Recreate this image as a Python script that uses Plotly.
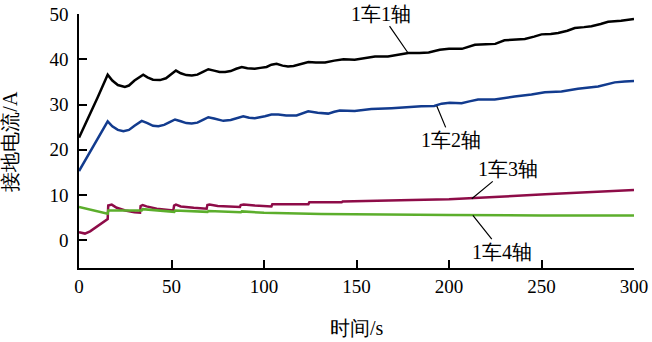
import plotly.graph_objects as go

# Ground current of each axle of car 1 over time
t_axle1 = [0, 5, 10, 15.5, 18, 21, 24.8, 27, 30, 34.7, 37, 40, 43.8, 47, 50, 52.4, 55, 58, 61, 64, 67,
           69.9, 73, 76, 79, 82, 85, 88, 91, 95, 98, 101.4, 104, 106.8, 110, 113, 116, 118.5, 121, 124,
           128, 133, 138, 143, 149, 154, 160, 167, 172.5, 178, 184, 189, 195, 200, 207, 214, 220, 225,
           230, 236, 241, 246, 250, 255, 259, 264, 268, 273, 277, 282, 286, 293, 300]
i_axle1 = [22.7, 27.0, 31.5, 36.6, 35.3, 34.3, 33.9, 34.2, 35.3, 36.6, 36.0, 35.5, 35.4, 35.8, 36.8, 37.5,
           36.9, 36.5, 36.4, 36.6, 37.2, 37.8, 37.5, 37.2, 37.2, 37.4, 37.9, 38.3, 38.0, 37.9, 38.1, 38.3,
           38.8, 39.0, 38.6, 38.4, 38.5, 38.8, 39.2, 39.4, 39.3, 39.3, 39.7, 40.0, 39.9, 40.2, 40.6, 40.6,
           41.0, 41.4, 41.4, 41.5, 42.1, 42.3, 42.3, 43.2, 43.3, 43.4, 44.2, 44.3, 44.5, 45.0, 45.5, 45.6,
           45.8, 46.3, 46.9, 47.1, 47.3, 47.8, 48.3, 48.5, 48.9]

t_axle2 = [0, 5, 10, 15.5, 18, 21, 24, 27, 30, 33.9, 37, 40, 42.9, 46, 49, 51.9, 55, 58, 60.9, 64, 67,
           69.9, 73, 76, 78, 82, 85, 88.8, 92, 95, 100.5, 104, 107.7, 112, 117.6, 121, 123.9, 129, 134.7,
           138, 141, 149, 158, 169, 178, 185, 192, 196, 200.4, 206.8, 211, 215.7, 224.7, 230, 235.5,
           244.6, 251.8, 260.8, 269.7, 280.6, 285, 289.6, 295, 300]
i_axle2 = [15.3, 18.9, 22.4, 26.3, 25.2, 24.4, 24.1, 24.4, 25.3, 26.4, 25.9, 25.3, 25.2, 25.5, 26.1, 26.7,
           26.3, 25.9, 25.8, 26.0, 26.6, 27.2, 26.9, 26.5, 26.4, 26.6, 27.0, 27.4, 27.1, 27.0, 27.4, 27.8,
           27.8, 27.6, 27.6, 28.1, 28.5, 28.2, 28.0, 28.4, 28.7, 28.6, 29.0, 29.2, 29.5, 29.6, 29.7, 30.2,
           30.4, 30.3, 30.7, 31.1, 31.1, 31.5, 31.8, 32.2, 32.7, 32.9, 33.5, 34.0, 34.4, 34.9, 35.1, 35.2]

t_axle3 = [0, 3.2, 6, 10, 15.5, 15.8, 17.7, 20.4, 25, 30, 33, 33.3, 34.4, 36.5, 42, 51, 51.4, 52.4, 55,
           62, 69, 69.4, 70.5, 75, 87, 87.4, 89, 95, 104, 104.5, 124, 124.5, 142, 142.5, 160, 180, 200,
           212, 230, 252, 275, 300]
i_axle3 = [1.8, 1.5, 2.0, 3.2, 4.7, 7.7, 7.9, 7.2, 6.6, 6.2, 6.1, 7.6, 7.8, 7.5, 7.0, 6.6, 7.7, 7.9, 7.5,
           7.2, 7.0, 7.8, 7.9, 7.6, 7.4, 7.8, 7.9, 7.7, 7.5, 8.0, 8.0, 8.4, 8.4, 8.6, 8.7, 8.9, 9.1,
           9.3, 9.7, 10.2, 10.6, 11.1]

t_axle4 = [0, 15.5, 15.8, 33.9, 34.4, 51.5, 52, 69.5, 70, 87.5, 88, 100, 131, 155, 178, 200, 250, 300]
i_axle4 = [7.4, 5.9, 6.6, 6.6, 6.9, 6.3, 6.6, 6.3, 6.5, 6.2, 6.4, 6.1, 5.8, 5.7, 5.7, 5.6, 5.5, 5.5]

series_names = ["1车1轴", "1车2轴", "1车3轴", "1车4轴"]
series_colors = ["#000000", "#123b8e", "#8e0c48", "#5cae2c"]

# label text position and the point on the curve its leader line touches
label_x = [163.2, 201.0, 231.8, 228.5]
label_y = [50.1, 22.2, 15.8, -2.5]
leader_x = [177.7, 193.4, 212.3, 212.9]
leader_y = [41.5, 29.7, 9.2, 5.5]

x_ticks = [0, 50, 100, 150, 200, 250, 300]
y_ticks = [0, 10, 20, 30, 40, 50]

FONT = "'Times New Roman', 'Liberation Serif', 'DejaVu Serif', serif"

fig = go.Figure()
for t, i, name, color in zip([t_axle1, t_axle2, t_axle3, t_axle4],
                             [i_axle1, i_axle2, i_axle3, i_axle4],
                             series_names, series_colors):
    fig.add_trace(go.Scatter(x=t, y=i, mode="lines", name=name,
                             line=dict(color=color, width=2.5), showlegend=False))

for name, lx, ly, hx, hy in zip(series_names, label_x, label_y, leader_x, leader_y):
    fig.add_annotation(x=hx, y=hy, ax=lx, ay=ly, xref="x", yref="y", axref="x", ayref="y",
                       text=name, showarrow=True, arrowhead=0, arrowwidth=1.2,
                       arrowcolor="black", standoff=0,
                       font=dict(family=FONT, size=20, color="black"))

axis_common = dict(showline=True, linecolor="black", linewidth=1.5, ticks="inside",
                   ticklen=8, tickwidth=1.5, tickcolor="black", showgrid=False, zeroline=False,
                   automargin=False,
                   tickfont=dict(family=FONT, size=19, color="black"))

fig.update_xaxes(range=[0, 300], tickvals=x_ticks, **axis_common)
fig.update_yaxes(range=[-6.1, 50], tickvals=y_ticks, ticklabelstandoff=5, **axis_common)

fig.add_annotation(text="时间/s", x=0.5, y=-0.235, xref="paper", yref="paper",
                   showarrow=False, yanchor="middle",
                   font=dict(family=FONT, size=20, color="black"))
fig.add_annotation(text="接地电流/A", x=-0.125, y=0.5, xref="paper", yref="paper",
                   showarrow=False, textangle=-90, xanchor="center",
                   font=dict(family=FONT, size=20, color="black"))

fig.update_layout(width=652, height=342, font=dict(family=FONT),
                  margin=dict(l=79, r=18, t=14, b=74, autoexpand=False),
                  plot_bgcolor="white", paper_bgcolor="white")

fig.write_html("out.html")
